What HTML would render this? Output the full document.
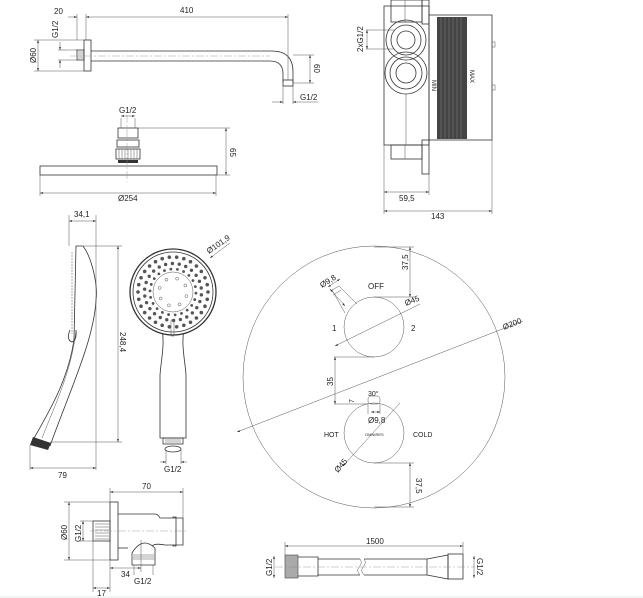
<!DOCTYPE html>
<html><head><meta charset="utf-8"><style>
html,body{margin:0;padding:0;background:#fff}
svg{display:block}
text{font-family:"Liberation Sans",sans-serif;font-size:8px;fill:#222}
.l{stroke:#333;stroke-width:0.8;fill:none}
.t{stroke:#555;stroke-width:0.5;fill:none}
.c{stroke:#888;stroke-width:0.4;fill:none;stroke-dasharray:8 2 2 2}
</style></head><body>
<svg width="643" height="598" viewBox="0 0 643 598" xmlns="http://www.w3.org/2000/svg">
<defs>
<marker id="a" viewBox="0 0 10 10" refX="10" refY="5" markerWidth="6" markerHeight="6" orient="auto-start-reverse"><path d="M0,2 L10,5 L0,8z" fill="#222"/></marker>
</defs>
<rect x="0" y="0" width="643" height="598" fill="#fff"/>

<!-- Shower arm -->
<g>
<rect class="l" x="84" y="40" width="7" height="31"/>
<rect class="l" x="77" y="50" width="7" height="10"/>
<path class="t" d="M78,52h6M78,54h6M78,56h6M78,58h6"/>
<path class="l" d="M91,51 H272 Q293,51 293,72 V82"/>
<path class="l" d="M91,61 H270 Q283,61 283,74 V82"/>
<rect class="l" x="283" y="80" width="10" height="6"/>
<line class="c" x1="70" y1="56" x2="270" y2="56"/>
<line class="t" x1="77" y1="14" x2="77" y2="40"/>
<line class="t" x1="86" y1="14" x2="86" y2="40"/>
<line class="t" x1="288" y1="14" x2="288" y2="80"/>
<line class="t" x1="68" y1="17" x2="77" y2="17" marker-end="url(#a)"/>
<line class="t" x1="86" y1="17" x2="288" y2="17" marker-start="url(#a)" marker-end="url(#a)"/>
<text x="54" y="14">20</text><text x="180" y="13">410</text>
<line class="t" x1="34" y1="40" x2="84" y2="40"/><line class="t" x1="34" y1="71" x2="84" y2="71"/>
<line class="t" x1="38" y1="40" x2="38" y2="71" marker-start="url(#a)" marker-end="url(#a)"/>
<text transform="translate(36,63) rotate(-90)">Ø60</text>
<line class="t" x1="58" y1="50" x2="77" y2="50"/><line class="t" x1="58" y1="60" x2="77" y2="60"/>
<line class="t" x1="60" y1="42" x2="60" y2="50" marker-end="url(#a)"/><line class="t" x1="60" y1="68" x2="60" y2="60" marker-end="url(#a)"/>
<text transform="translate(58,38) rotate(-90)">G1/2</text>
<line class="t" x1="293" y1="55" x2="314" y2="55"/><line class="t" x1="293" y1="83" x2="314" y2="83"/>
<line class="t" x1="310" y1="55" x2="310" y2="83" marker-start="url(#a)" marker-end="url(#a)"/>
<text transform="translate(314,64) rotate(90)">60</text>
<line class="t" x1="283" y1="86" x2="283" y2="104"/><line class="t" x1="293" y1="86" x2="293" y2="104"/>
<line class="t" x1="272" y1="102" x2="283" y2="102" marker-end="url(#a)"/><line class="t" x1="318" y1="102" x2="293" y2="102" marker-end="url(#a)"/>
<text x="300" y="100">G1/2</text>
</g>

<!-- Shower head -->
<g>
<rect class="l" x="118" y="128" width="20" height="10"/>
<rect class="l" x="117" y="140" width="22" height="7"/>
<rect class="l" x="116" y="149" width="24" height="10"/>
<path class="t" d="M119,149v10M122,149v10M125,149v10M128,149v10M131,149v10M134,149v10M137,149v10"/>
<rect x="118" y="160" width="20" height="3" fill="#333"/>
<rect class="l" x="40" y="166" width="177" height="9"/>
<line class="c" x1="127" y1="115" x2="127" y2="182"/>
<line class="t" x1="138" y1="128" x2="230" y2="128"/><line class="t" x1="217" y1="175" x2="230" y2="175"/>
<line class="t" x1="226" y1="128" x2="226" y2="175" marker-start="url(#a)" marker-end="url(#a)"/>
<text transform="translate(230,148) rotate(90)">65</text>
<line class="t" x1="121" y1="118" x2="121" y2="128"/><line class="t" x1="135" y1="118" x2="135" y2="128"/>
<line class="t" x1="121" y1="116" x2="135" y2="116" marker-start="url(#a)" marker-end="url(#a)"/>
<text x="119" y="113">G1/2</text>
<line class="t" x1="40" y1="175" x2="40" y2="196"/><line class="t" x1="216" y1="175" x2="216" y2="196"/>
<line class="t" x1="40" y1="193" x2="216" y2="193" marker-start="url(#a)" marker-end="url(#a)"/>
<text x="118" y="201">Ø254</text>
</g>

<!-- Box -->
<g>
<rect class="l" x="384" y="6" width="45" height="139"/>
<rect class="l" x="391" y="0" width="31" height="22"/>
<line class="t" x1="405" y1="0" x2="405" y2="22"/>
<rect class="l" x="422" y="0" width="7" height="24"/>
<rect class="l" x="391" y="145" width="31" height="14"/>
<line class="t" x1="405" y1="145" x2="405" y2="159"/>
<rect class="l" x="422" y="140" width="7" height="34"/>
<rect class="l" x="429" y="15" width="63" height="125"/>
<rect x="437" y="17" width="30" height="122" fill="#444"/>
<path d="M441,17v122M445,17v122M449,17v122M453,17v122M457,17v122M461,17v122" stroke="#777" stroke-width="0.6"/>
<circle class="l" cx="406" cy="40" r="20"/><circle class="l" cx="406" cy="40" r="15"/><circle class="l" cx="406" cy="40" r="9"/>
<circle class="l" cx="406" cy="73" r="21"/><circle class="l" cx="406" cy="73" r="16"/><circle class="l" cx="406" cy="73" r="10"/>
<line class="t" x1="406" y1="94" x2="406" y2="145"/>
<text transform="translate(432,80) rotate(90)" style="font-size:6px">MIN</text>
<text transform="translate(470,70) rotate(90)" style="font-size:6px">MAX</text>
<rect class="t" x="492" y="42" width="3" height="5"/><rect class="t" x="492" y="85" width="3" height="5"/>
<line class="t" x1="366" y1="30" x2="394" y2="30"/><line class="t" x1="366" y1="49" x2="394" y2="49"/>
<line class="t" x1="367" y1="30" x2="367" y2="49" marker-start="url(#a)" marker-end="url(#a)"/>
<text transform="translate(363,52) rotate(-90)">2xG1/2</text>
<line class="t" x1="384" y1="145" x2="384" y2="214"/><line class="t" x1="429" y1="174" x2="429" y2="195"/><line class="t" x1="492" y1="140" x2="492" y2="214"/>
<line class="t" x1="384" y1="192" x2="429" y2="192" marker-start="url(#a)" marker-end="url(#a)"/>
<text x="399" y="201">59,5</text>
<line class="t" x1="384" y1="211" x2="492" y2="211" marker-start="url(#a)" marker-end="url(#a)"/>
<text x="431" y="219">143</text>
</g>

<!-- Hand shower side -->
<g>
<path class="l" d="M83,246 L76,246 L74,340 C68,380 50,410 33,440"/>
<path class="l" d="M83,246 C92,258 98,285 96,300 C94,340 70,390 50,446"/>
<path class="t" d="M76,330 C72,370 55,405 42,438"/>
<path d="M33,437 L51,443 L48,450 L30,445z" fill="#333"/>
<path class="t" d="M72,252 v82" stroke-dasharray="2 1" stroke-width="2"/>
<path class="l" d="M70,330 q-4,10 2,12 q5,-2 4,-12"/>
<line class="t" x1="69" y1="215" x2="69" y2="246"/><line class="t" x1="96" y1="215" x2="96" y2="470"/>
<line class="t" x1="69" y1="221" x2="96" y2="221" marker-start="url(#a)" marker-end="url(#a)"/>
<text x="74" y="217">34,1</text>
<line class="t" x1="83" y1="246" x2="122" y2="246"/><line class="t" x1="50" y1="442" x2="122" y2="442"/>
<line class="t" x1="118" y1="246" x2="118" y2="442" marker-start="url(#a)" marker-end="url(#a)"/>
<text transform="translate(120,332) rotate(90)">248,4</text>
<line class="t" x1="30" y1="445" x2="30" y2="470"/>
<line class="t" x1="30" y1="468" x2="96" y2="468" marker-start="url(#a)" marker-end="url(#a)"/>
<text x="58" y="478">79</text>
</g>

<!-- Hand shower front -->
<g id="front">
<path class="l" d="M162,329 C165,345 161,360 160,375 L160,438 L186,438 L186,375 C185,360 181,345 184,329"/>
<circle cx="173" cy="292" r="43" fill="#fff" stroke="#333" stroke-width="1.3"/>
<circle class="l" cx="173" cy="292" r="40"/>
<circle class="t" cx="173" cy="292" r="20"/>
<rect class="t" x="171" y="320" width="3" height="16"/>
<rect class="l" x="163" y="438" width="20" height="6"/>
<path class="t" d="M165,440h16M165,442h16"/>
<ellipse class="l" cx="173" cy="449" rx="8" ry="3"/>
<line class="t" x1="166" y1="450" x2="166" y2="464"/><line class="t" x1="181" y1="450" x2="181" y2="464"/>
<line class="t" x1="160" y1="462" x2="166" y2="462" marker-end="url(#a)"/><line class="t" x1="187" y1="462" x2="181" y2="462" marker-end="url(#a)"/>
<text x="164" y="472">G1/2</text>
<line class="t" x1="230" y1="243" x2="210" y2="258" marker-end="url(#a)"/>
<text transform="translate(209,254) rotate(-35)">Ø101,9</text>
</g>

<!-- Trim plate -->
<g>
<circle class="t" cx="374" cy="377" r="131"/>
<line class="t" x1="237" y1="432" x2="523" y2="321" marker-start="url(#a)"/>
<text transform="translate(504,330) rotate(-22)">Ø200</text>
<circle class="t" cx="374" cy="327" r="30"/>
<circle class="t" cx="374" cy="433" r="30"/>
<path class="t" d="M345,313 L332,290 L339,286 L357,304"/>
<line class="t" x1="333" y1="295" x2="341" y2="290"/>
<line class="t" x1="330" y1="289" x2="345" y2="306" marker-start="url(#a)" marker-end="url(#a)"/>
<line class="t" x1="328" y1="287" x2="340" y2="279" marker-start="url(#a)" marker-end="url(#a)"/>
<text transform="translate(322,288) rotate(-32)">Ø9,8</text>
<text x="368" y="289">OFF</text><text x="332" y="331">1</text><text x="411" y="331">2</text>
<line class="t" x1="335" y1="346" x2="420" y2="304" marker-start="url(#a)"/>
<text transform="translate(406,306) rotate(-22)">Ø45</text>
<line class="t" x1="374" y1="297" x2="414" y2="297"/><line class="t" x1="374" y1="247" x2="414" y2="247"/>
<line class="t" x1="410" y1="247" x2="410" y2="297" marker-start="url(#a)" marker-end="url(#a)"/>
<text transform="translate(408,270) rotate(-90)">37,5</text>
<line class="t" x1="334" y1="357" x2="374" y2="357"/><line class="t" x1="334" y1="404" x2="368" y2="404"/>
<line class="t" x1="335" y1="357" x2="335" y2="404" marker-start="url(#a)" marker-end="url(#a)"/>
<text transform="translate(333,386) rotate(-90)">35</text>
<rect class="t" x="368" y="396" width="12" height="8" rx="3"/>
<line class="t" x1="368" y1="404" x2="368" y2="414"/><line class="t" x1="380" y1="404" x2="380" y2="414"/>
<line class="t" x1="371" y1="412" x2="380" y2="412" marker-start="url(#a)" marker-end="url(#a)"/>
<text x="368" y="423">Ø9,8</text><text x="368" y="396" style="font-size:7px">30°</text>
<text transform="translate(354,403) rotate(-90)" style="font-size:7px">7</text>
<text x="324" y="437" style="font-size:7px">HOT</text><text x="413" y="437" style="font-size:7px">COLD</text>
<text x="365" y="436" style="font-size:4px">OMNIRES</text>
<line class="t" x1="343" y1="466" x2="400" y2="403" marker-start="url(#a)"/>
<text transform="translate(338,473) rotate(-50)">Ø45</text>
<line class="t" x1="374" y1="463" x2="414" y2="463"/><line class="t" x1="374" y1="507" x2="414" y2="507"/>
<line class="t" x1="410" y1="463" x2="410" y2="507" marker-start="url(#a)" marker-end="url(#a)"/>
<text transform="translate(416,478) rotate(90)">37,5</text>
</g>

<!-- Wall outlet -->
<g>
<rect class="l" x="110" y="502" width="8" height="58"/>
<rect class="l" x="93" y="521" width="17" height="20"/>
<path class="t" d="M95,524h14M95,527h14M95,530h14M95,533h14M95,536h14M95,539h14"/>
<path class="l" d="M118,514 H155 Q158,514 160,518 H173 V517 H176 V546 H173 V545 H165 Q155,543 152,546"/>
<path class="l" d="M173,518 H183 V545 H173"/>
<path class="l" d="M118,548 H128"/>
<path class="l" d="M132,553 Q142,536 155,548 V565 H132 Z"/>
<path class="t" d="M133,555h21M133,557h21M133,559h21"/>
<line class="c" x1="90" y1="531" x2="186" y2="531"/>
<line class="t" x1="110" y1="488" x2="110" y2="502"/><line class="t" x1="183" y1="488" x2="183" y2="518"/>
<line class="t" x1="110" y1="492" x2="183" y2="492" marker-start="url(#a)" marker-end="url(#a)"/>
<text x="142" y="489">70</text>
<line class="t" x1="64" y1="502" x2="110" y2="502"/><line class="t" x1="64" y1="560" x2="110" y2="560"/>
<line class="t" x1="69" y1="502" x2="69" y2="560" marker-start="url(#a)" marker-end="url(#a)"/>
<text transform="translate(67,540) rotate(-90)">Ø60</text>
<line class="t" x1="80" y1="521" x2="93" y2="521"/><line class="t" x1="80" y1="541" x2="93" y2="541"/>
<line class="t" x1="83" y1="521" x2="83" y2="541" marker-start="url(#a)" marker-end="url(#a)"/>
<text transform="translate(81,542) rotate(-90)">G1/2</text>
<line class="t" x1="141" y1="540" x2="141" y2="572"/>
<line class="t" x1="110" y1="568" x2="141" y2="568" marker-start="url(#a)" marker-end="url(#a)"/>
<text x="121" y="577">34</text>
<line class="t" x1="134" y1="565" x2="134" y2="575"/><line class="t" x1="153" y1="565" x2="153" y2="575"/>
<text x="134" y="584">G1/2</text>
<line class="t" x1="93" y1="541" x2="93" y2="592"/><line class="t" x1="110" y1="560" x2="110" y2="592"/>
<line class="t" x1="93" y1="588" x2="110" y2="588" marker-start="url(#a)" marker-end="url(#a)"/>
<text x="97" y="596">17</text>
</g>

<!-- Hose -->
<g>
<rect x="285" y="555" width="13" height="23" fill="#aaa" stroke="#444" stroke-width="0.6"/>
<path class="l" d="M298,557 H318 V576 H298"/>
<path class="l" d="M318,559 H360 M318,575 H360 M364,559 H427 M364,575 H427"/>
<path class="t" d="M360,559 q3,4 -1,8 q-3,4 1,8 M364,559 q3,4 -1,8 q-3,4 1,8"/>
<path class="l" d="M427,559 L427,575 M427,559 L448,555 V579 L427,575"/>
<rect class="l" x="448" y="554" width="15" height="25"/>
<line class="c" x1="275" y1="567" x2="475" y2="567"/>
<line class="t" x1="285" y1="542" x2="285" y2="555"/><line class="t" x1="463" y1="542" x2="463" y2="554"/>
<line class="t" x1="285" y1="546" x2="463" y2="546" marker-start="url(#a)" marker-end="url(#a)"/>
<text x="366" y="544">1500</text>
<line class="t" x1="274" y1="556" x2="274" y2="578" marker-start="url(#a)" marker-end="url(#a)"/>
<text transform="translate(272,576) rotate(-90)">G1/2</text>
<line class="t" x1="474" y1="556" x2="474" y2="578" marker-start="url(#a)" marker-end="url(#a)"/>
<text transform="translate(477,558) rotate(90)">G1/2</text>
</g>
<line x1="0" y1="597" x2="643" y2="597" stroke="#e4eaea" stroke-width="1"/>
</svg>
<script>
(function(){
var g=document.getElementById('front'),ns='http://www.w3.org/2000/svg',cx=173,cy=292;
function ring(r,n,rr,off,hollow){for(var i=0;i<n;i++){var a=off+i*2*Math.PI/n;var c=document.createElementNS(ns,'circle');c.setAttribute('cx',cx+r*Math.cos(a));c.setAttribute('cy',cy+r*Math.sin(a));c.setAttribute('r',rr);if(hollow){c.setAttribute('fill','none');c.setAttribute('stroke','#555');c.setAttribute('stroke-width','0.5');}else c.setAttribute('fill','#555');g.appendChild(c);}}
ring(35,30,1.8,0);ring(28.5,26,1.7,0.1);ring(23,22,1.4,0.05);ring(14,8,1.5,0.3,true);
})();
</script>
</body></html>
